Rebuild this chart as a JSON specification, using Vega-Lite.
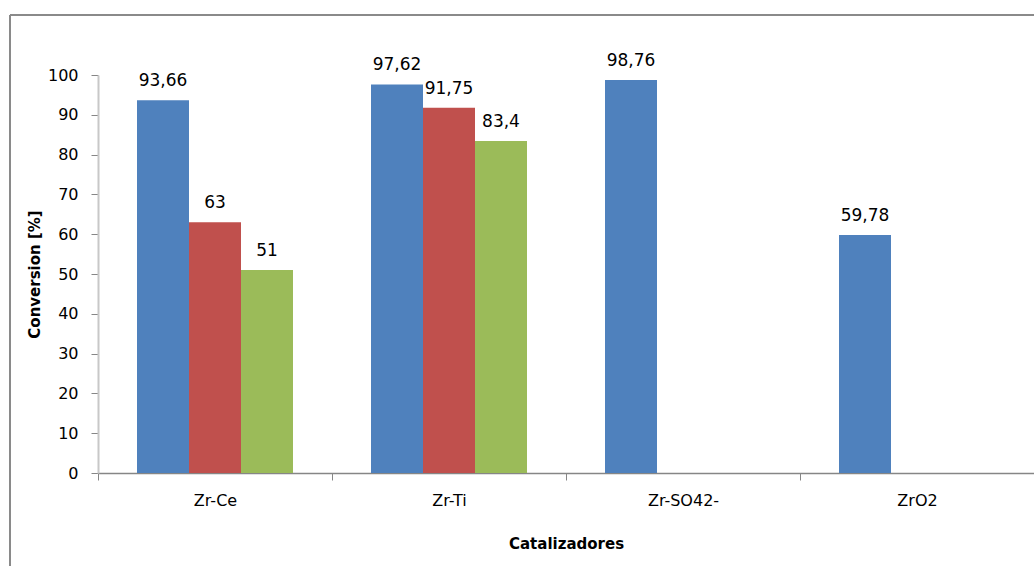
{
  "$schema": "https://vega.github.io/schema/vega-lite/v6.json",
  "width": 1024,
  "height": 551,
  "autosize": {"type": "none"},
  "padding": {"left": 10, "top": 15, "right": 0, "bottom": 0},
  "background": "white",
  "config": {
    "font": "DejaVu Sans",
    "locale": {
      "number": {"decimal": ",", "thousands": ".", "grouping": [3], "currency": ["", " €"]}
    },
    "view": {"stroke": "#8a8a8a", "strokeWidth": 2, "strokeDash": [1024, 1575, 551, 0]}
  },
  "data": {
    "values": [
      {"catalizador": "Zr-Ce", "serie": "Serie 1", "conversion": 93.66},
      {"catalizador": "Zr-Ce", "serie": "Serie 2", "conversion": 63},
      {"catalizador": "Zr-Ce", "serie": "Serie 3", "conversion": 51},
      {"catalizador": "Zr-Ti", "serie": "Serie 1", "conversion": 97.62},
      {"catalizador": "Zr-Ti", "serie": "Serie 2", "conversion": 91.75},
      {"catalizador": "Zr-Ti", "serie": "Serie 3", "conversion": 83.4},
      {"catalizador": "Zr-SO42-", "serie": "Serie 1", "conversion": 98.76},
      {"catalizador": "ZrO2", "serie": "Serie 1", "conversion": 59.78}
    ]
  },
  "encoding": {
    "x": {
      "field": "catalizador",
      "type": "nominal",
      "sort": ["Zr-Ce", "Zr-Ti", "Zr-SO42-", "ZrO2"],
      "scale": {"range": [88, 1024], "paddingInner": 0, "paddingOuter": 0},
      "axis": {
        "title": "Catalizadores",
        "titleFont": "DejaVu Sans",
        "titleFontSize": 15,
        "titleFontWeight": "bold",
        "titleColor": "#000000",
        "titleY": 70,
        "titleBaseline": "middle",
        "offset": -93,
        "labelAngle": 0,
        "labelFontSize": 16,
        "labelColor": "#000000",
        "labelPadding": 12,
        "labelBaseline": "top",
        "domainColor": "#868686",
        "domainWidth": 1.5,
        "tickColor": "#868686",
        "tickSize": 7,
        "tickBand": "extent",
        "grid": false
      }
    },
    "xOffset": {
      "field": "serie",
      "type": "nominal",
      "scale": {"domain": ["Serie 1", "Serie 2", "Serie 3"], "paddingInner": 0, "paddingOuter": 0.75}
    },
    "y": {
      "field": "conversion",
      "type": "quantitative",
      "scale": {"domain": [0, 100], "range": [458, 60], "nice": false, "zero": true},
      "axis": {
        "title": "Conversion [%]",
        "titleFont": "DejaVu Sans",
        "titleFontSize": 15,
        "titleFontWeight": "bold",
        "titleColor": "#000000",
        "titleX": -64,
        "titleY": 259,
        "titleAngle": -90,
        "titleBaseline": "middle",
        "titleAlign": "center",
        "offset": -88,
        "values": [0, 10, 20, 30, 40, 50, 60, 70, 80, 90, 100],
        "labelFontSize": 16,
        "labelColor": "#000000",
        "labelPadding": 13,
        "domainColor": "#c8c8c8",
        "domainWidth": 2,
        "tickColor": "#868686",
        "tickSize": 7,
        "grid": false
      }
    }
  },
  "layer": [
    {
      "mark": {"type": "bar"},
      "encoding": {
        "color": {
          "field": "serie",
          "type": "nominal",
          "scale": {"domain": ["Serie 1", "Serie 2", "Serie 3"], "range": ["#4F81BD", "#C0504D", "#9BBB59"]},
          "legend": null
        }
      }
    },
    {
      "mark": {"type": "text", "baseline": "alphabetic", "align": "center", "dy": -14, "fontSize": 17, "color": "#000000"},
      "encoding": {
        "text": {"field": "conversion", "type": "quantitative", "format": "~g"}
      }
    }
  ]
}
